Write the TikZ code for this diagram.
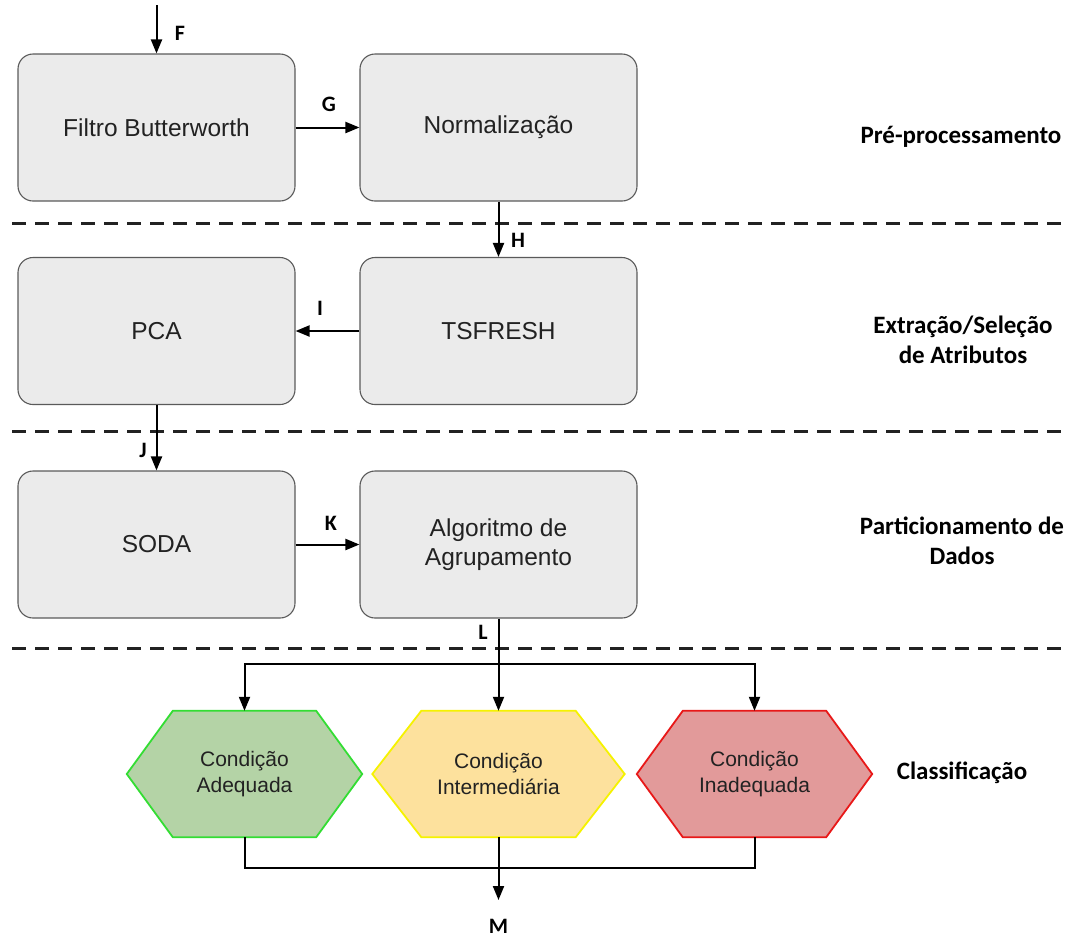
\documentclass[tikz,border=0pt]{standalone}
\usepackage{fontspec}
\setmainfont{Liberation Sans}
\newfontfamily\labfont{Carlito}
\usetikzlibrary{arrows.meta,backgrounds}
\definecolor{boxfill}{HTML}{EBEBEB}
\definecolor{boxline}{HTML}{5A5A5A}
\definecolor{textcol}{HTML}{222222}
\definecolor{sepcol}{HTML}{222222}
\definecolor{gfill}{HTML}{B4D3A6}
\definecolor{gline}{HTML}{33DD33}
\definecolor{yfill}{HTML}{FDE19D}
\definecolor{yline}{HTML}{F5F200}
\definecolor{rfill}{HTML}{E29A9A}
\definecolor{rline}{HTML}{E81818}
\begin{document}
\begin{tikzpicture}[x=1pt,y=-1pt,
  proc/.style={draw=boxline, line width=1.1pt, fill=boxfill, rounded corners=15pt,
    minimum width=277pt, minimum height=147pt, inner sep=0pt, align=center,
    font=\fontsize{24.5}{29}\selectfont, text=textcol},
  hexnode/.style={minimum width=#1, minimum height=126pt, inner sep=0pt, align=center,
    font=\fontsize{21}{26}\selectfont, text=textcol},
  conn/.style={line width=2pt, draw=black, -{Triangle[length=14pt,width=11pt]}},
  plainline/.style={line width=2pt, draw=black},
  sepline/.style={line width=3pt, dash pattern=on 14pt off 9pt, draw=sepcol},
  stage/.style={font=\labfont\bfseries\fontsize{25}{30}\selectfont, align=center, text=black},
  lbl/.style={font=\labfont\bfseries\fontsize{22}{24}\selectfont, text=black}
]
\useasboundingbox (0,0) rectangle (1065,938);

% separators
\coordinate (d1l) at (12,223);  \coordinate (d1r) at (1065,223);
\coordinate (d2l) at (12,431);  \coordinate (d2r) at (1065,431);
\coordinate (d3l) at (12,648);  \coordinate (d3r) at (1065,648);
\draw[sepline] (d1l) -- (d1r);
\draw[sepline] (d2l) -- (d2r);
\draw[sepline] (d3l) -- (d3r);

% process boxes
\node[proc] (fb)   at (156.5,127.5) {Filtro Butterworth};
\node[proc] (nm)   at (498.5,127.5) {Normalização};
\node[proc] (pca)  at (156.5,331)   {PCA};
\node[proc] (ts)   at (498.5,331)   {TSFRESH};
\node[proc] (soda) at (156.5,544.5) {SODA};
\node[proc] (alg)  at (498.5,544.5) {Algoritmo de\\Agrupamento};

% hexagons
\node[hexnode=235pt] (h1) at (244.5,774) {Condição\\Adequada};
\node[hexnode=252pt] (h2) at (498.5,774) {Condição\\Intermediária};
\node[hexnode=235pt] (h3) at (754.5,774) {Condição\\Inadequada};
\begin{scope}[on background layer]
\draw[fill=gfill, draw=gline, line width=1.8pt]
  ([xshift=46pt]h1.north west) -- ([xshift=-46pt]h1.north east) -- (h1.east)
  -- ([xshift=-46pt]h1.south east) -- ([xshift=46pt]h1.south west) -- (h1.west) -- cycle;
\draw[fill=yfill, draw=yline, line width=1.8pt]
  ([xshift=49pt]h2.north west) -- ([xshift=-49pt]h2.north east) -- (h2.east)
  -- ([xshift=-49pt]h2.south east) -- ([xshift=49pt]h2.south west) -- (h2.west) -- cycle;
\draw[fill=rfill, draw=rline, line width=1.8pt]
  ([xshift=46pt]h3.north west) -- ([xshift=-46pt]h3.north east) -- (h3.east)
  -- ([xshift=-46pt]h3.south east) -- ([xshift=46pt]h3.south west) -- (h3.west) -- cycle;
\end{scope}

% stage labels
\node[stage] (s1) at (961,137) {Pré-processamento};
\node[stage] (s2) at (963,340) {Extração/Seleção\\de Atributos};
\node[stage] (s3) at (962,541) {Particionamento de\\Dados};
\node[stage] (s4) at (962,773) {Classificação};

% connectors
\coordinate (fin) at (156.5,5);
\draw[conn] (fin) -- (fb.north);
\draw[conn] (fb.east) -- (nm.west);
\draw[conn] (nm.south) -- (ts.north);
\draw[conn] (ts.west) -- (pca.east);
\draw[conn] (pca.south) -- (soda.north);
\draw[conn] (soda.east) -- (alg.west);

\coordinate (br) at (498.5,664);
\draw[plainline] (alg.south) -- (br);
\draw[conn] (br) -| (h1.north);
\draw[conn] (br) -| (h3.north);
\draw[conn] (br) -- (h2.north);

\coordinate (bj) at (498.5,868);
\coordinate (mout) at (498.5,900);
\draw[plainline] (h1.south) |- (bj);
\draw[plainline] (h3.south) |- (bj);
\draw[conn] (h2.south) -- (mout);

% letter labels
\node[lbl] (lF) at (180,33)  {F};
\node[lbl] (lG) at (329,104) {G};
\node[lbl] (lH) at (518,240) {H};
\node[lbl] (lI) at (320,308) {I};
\node[lbl] (lJ) at (143,450) {J};
\node[lbl] (lK) at (331,523) {K};
\node[lbl] (lL) at (483,632) {L};
\node[lbl] (lM) at (498.5,926) {M};
\end{tikzpicture}
\end{document}
